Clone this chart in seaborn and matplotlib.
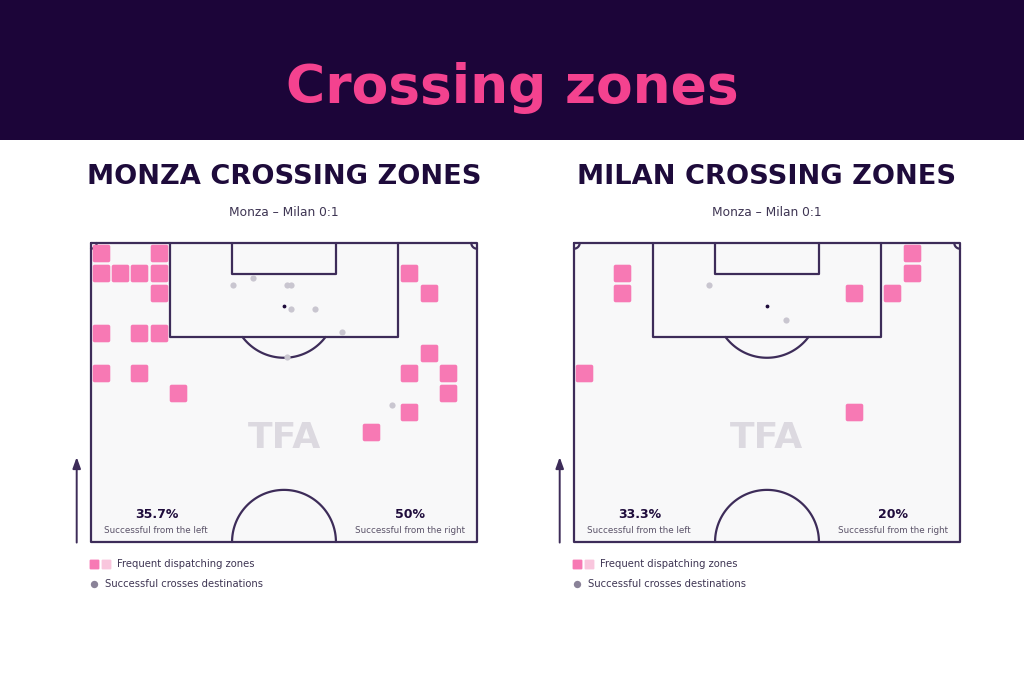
import numpy as np
import pandas as pd
import matplotlib
matplotlib.use("Agg")
import matplotlib.pyplot as plt
from matplotlib.path import Path
from matplotlib.patches import Rectangle
import seaborn as sns

# ---------------- data ----------------
panel_titles = ["MONZA CROSSING ZONES", "MILAN CROSSING ZONES"]
match_label = "Monza – Milan 0:1"

monza_zone_col = [0, 3, 0, 1, 2, 3, 16, 3, 17, 0, 2, 3, 17, 0, 2, 16, 18, 4, 18, 16, 14]
monza_zone_row = [0, 0, 1, 1, 1, 1, 1, 2, 2, 4, 4, 4, 5, 6, 6, 6, 6, 7, 7, 8, 9]
milan_zone_col = [17, 2, 17, 2, 14, 16, 0, 14]
milan_zone_row = [0, 1, 1, 2, 2, 2, 6, 8]

monza_dest_x = [24.96, 28.49, 34.58, 35.29, 35.29, 39.41, 44.17, 34.58, 53.08]
monza_dest_y = [7.32, 6.2, 7.32, 7.32, 11.54, 11.54, 15.68, 20.02, 28.39]
milan_dest_x = [23.8, 37.4]
milan_dest_y = [7.3, 13.6]

left_success = ["35.7%", "33.3%"]
right_success = ["50%", "20%"]

legend_labels = ["Frequent dispatching zones", "Successful crosses destinations"]

# ---------------- style ----------------
W, H = 1024, 683
DARK = "#1E0B3B"
LINE = "#3D2C59"
PINK = "#F779B4"
PINK_LIGHT = "#F9C6DD"
DOT = "#C9C6D0"
PITCH_BG = "#F8F8F9"

PITCH_W, PITCH_L = 68.0, 52.5
N_COLS, N_ROWS = 20, 15

sns.set_theme(style="white")
plt.rcParams["font.family"] = ["DejaVu Sans"]

fig = plt.figure(figsize=(W / 100, H / 100), dpi=100)
fig.patch.set_facecolor("white")


def fx(px):
    return px / W


def fy(py):
    return 1 - py / H


# header band
fig.patches.append(Rectangle((0, fy(140)), 1, 140 / H, transform=fig.transFigure,
                             facecolor="#1C0539", edgecolor="none", zorder=0))
fig.text(0.5, fy(103), "Crossing zones", ha="center", va="baseline",
         fontsize=38.5, fontweight="bold", color="#F4428F", family="DejaVu Sans")


# rounded square marker
def rounded_square(r=0.22, n=8):
    pts = []
    corners = [(1 - r, 1 - r, 0), (-1 + r, 1 - r, 90), (-1 + r, -1 + r, 180), (1 - r, -1 + r, 270)]
    for cx, cy, a0 in corners:
        for t in np.linspace(np.radians(a0), np.radians(a0 + 90), n):
            pts.append((cx + r * np.cos(t), cy + r * np.sin(t)))
    pts.append(pts[0])
    codes = [Path.MOVETO] + [Path.LINETO] * (len(pts) - 2) + [Path.CLOSEPOLY]
    return Path(pts, codes)


RSQ = rounded_square()


def draw_pitch(ax):
    ax.set_facecolor(PITCH_BG)
    lw = 1.6
    kw = dict(color=LINE, lw=lw, solid_capstyle="round", solid_joinstyle="round",
              clip_on=False, zorder=2)
    # outline
    ax.plot([0, PITCH_W, PITCH_W, 0, 0], [0, 0, PITCH_L, PITCH_L, 0], **kw)
    # penalty box
    bx0, bx1 = (PITCH_W - 40.3) / 2, (PITCH_W + 40.3) / 2
    ax.plot([bx0, bx0, bx1, bx1], [0, 16.5, 16.5, 0], **kw)
    # six-yard box
    sx0, sx1 = (PITCH_W - 18.32) / 2, (PITCH_W + 18.32) / 2
    ax.plot([sx0, sx0, sx1, sx1], [0, 5.5, 5.5, 0], **kw)
    # penalty arc
    t = np.linspace(np.arcsin(5.5 / 9.15), np.pi - np.arcsin(5.5 / 9.15), 80)
    ax.plot(PITCH_W / 2 + 9.15 * np.cos(t), 11 + 9.15 * np.sin(t), **kw)
    # centre circle (half)
    t = np.linspace(np.pi, 2 * np.pi, 120)
    ax.plot(PITCH_W / 2 + 9.15 * np.cos(t), PITCH_L + 9.15 * np.sin(t), **kw)
    # corner arcs
    t = np.linspace(0, np.pi / 2, 30)
    ax.plot(1.0 * np.cos(t), 1.0 * np.sin(t), **kw)
    ax.plot(PITCH_W - 1.0 * np.cos(t), 1.0 * np.sin(t), **kw)
    # penalty spot
    ax.scatter([PITCH_W / 2], [11], s=3, color=DARK, zorder=4)
    # watermark
    ax.text(PITCH_W / 2, 34.2, "TFA", ha="center", va="center", fontsize=26,
            fontweight="heavy", color="#DCD9E0", zorder=1)


panels = [
    (91, monza_zone_col, monza_zone_row, monza_dest_x, monza_dest_y),
    (574, milan_zone_col, milan_zone_row, milan_dest_x, milan_dest_y),
]

for i, (x0, zc, zr, dx, dy) in enumerate(panels):
    ax = fig.add_axes([fx(x0), fy(542), 386 / W, 299 / H])
    ax.set_xlim(0, PITCH_W)
    ax.set_ylim(PITCH_L, 0)
    ax.axis("off")
    ax.add_patch(Rectangle((0, 0), PITCH_W, PITCH_L, facecolor=PITCH_BG, edgecolor="none", zorder=0))
    draw_pitch(ax)

    zones = pd.DataFrame({"col": zc, "row": zr})
    zones["x"] = (zones["col"] + 0.5) * PITCH_W / N_COLS
    zones["y"] = (zones["row"] + 0.5) * PITCH_L / N_ROWS
    sns.scatterplot(data=zones, x="x", y="y", marker=RSQ, s=160, color=PINK,
                    linewidth=0, ax=ax, zorder=3, legend=False)

    dest = pd.DataFrame({"x": dx, "y": dy})
    sns.scatterplot(data=dest, x="x", y="y", marker="o", s=20, color=DOT,
                    linewidth=0, ax=ax, zorder=3, legend=False)
    ax.set_xlabel("")
    ax.set_ylabel("")

    # success stats
    ax.text(11.6, 47.6, left_success[i], ha="center", va="center", fontsize=9,
            fontweight="bold", color=DARK)
    ax.text(11.4, 50.4, "Successful from the left", ha="center", va="center",
            fontsize=6.3, color="#5A5268")
    ax.text(56.2, 47.6, right_success[i], ha="center", va="center", fontsize=9,
            fontweight="bold", color=DARK)
    ax.text(56.2, 50.4, "Successful from the right", ha="center", va="center",
            fontsize=6.3, color="#5A5268")

    # attacking direction arrow
    ax.annotate("", xy=(-2.52, 37.6), xytext=(-2.52, 52.6),
                arrowprops=dict(arrowstyle="-|>,head_length=0.55,head_width=0.2",
                                color=LINE, lw=1.4, shrinkA=0, shrinkB=0),
                annotation_clip=False)

    # legend
    ax.scatter([0.45], [56.4], marker=RSQ, s=50, color=PINK, linewidth=0, clip_on=False)
    ax.scatter([2.7], [56.4], marker=RSQ, s=50, color=PINK_LIGHT, linewidth=0, clip_on=False)
    ax.text(4.6, 56.4, legend_labels[0], ha="left", va="center", fontsize=7.2, color="#3E3553")
    ax.scatter([0.45], [59.9], marker="o", s=28, color="#8A8298", linewidth=0, clip_on=False)
    ax.text(2.45, 59.9, legend_labels[1], ha="left", va="center", fontsize=7.2, color="#3E3553")

    # titles
    cx = x0 + 193
    fig.text(fx(cx), fy(177), panel_titles[i], ha="center", va="center",
             fontsize=19.6, fontweight="heavy", color=DARK)
    fig.text(fx(cx), fy(212), match_label, ha="center", va="center",
             fontsize=8.8, color="#3E3553")

fig.savefig("out.png", dpi=100, facecolor="white")
